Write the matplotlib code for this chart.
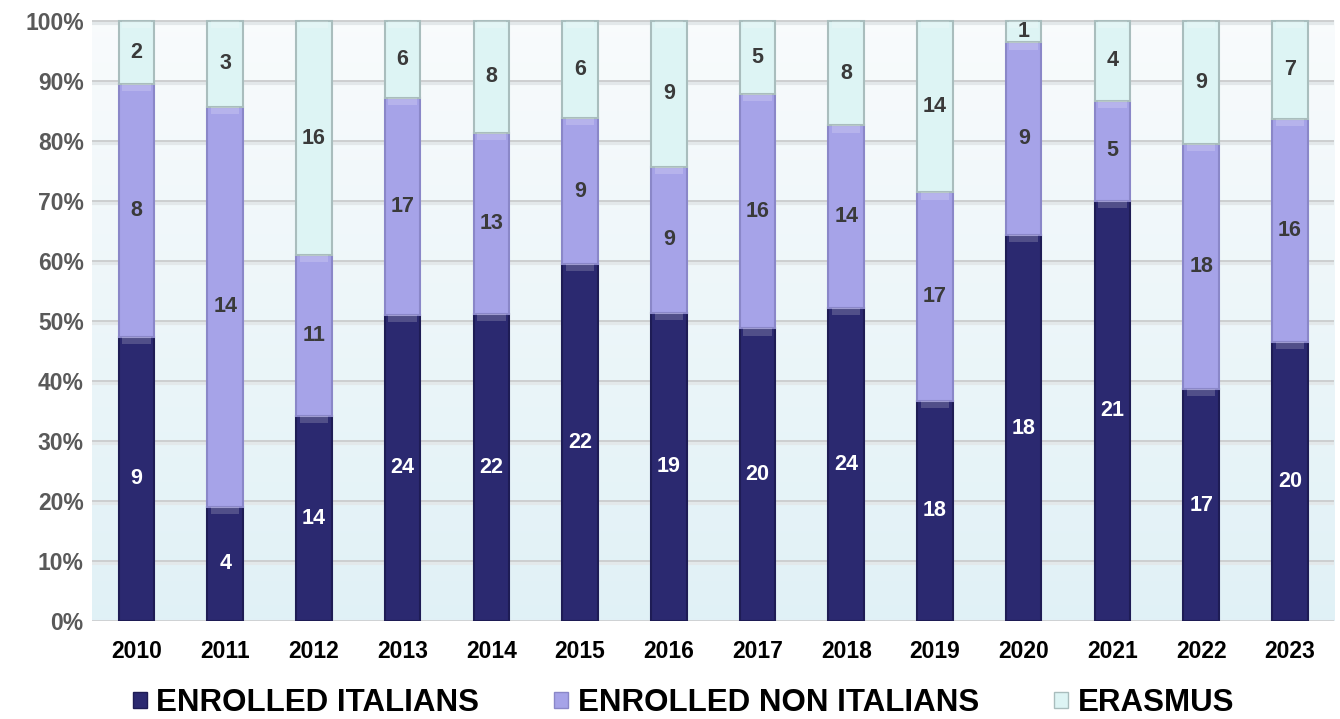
from matplotlib import pyplot as plt
from matplotlib.patches import Rectangle
import numpy as np

plt.rcParams['font.family'] = ['Liberation Sans', 'DejaVu Sans']
plt.rcParams['font.weight'] = 'bold'

# dati
years = ["2010", "2011", "2012", "2013", "2014", "2015", "2016",
         "2017", "2018", "2019", "2020", "2021", "2022", "2023"]
italians = [9, 4, 14, 24, 22, 22, 19, 20, 24, 18, 18, 21, 17, 20]
non_italians = [8, 14, 11, 17, 13, 9, 9, 16, 14, 17, 9, 5, 18, 16]
erasmus = [2, 3, 16, 6, 8, 6, 9, 5, 8, 14, 1, 4, 9, 7]
series_names = ["ENROLLED ITALIANS", "ENROLLED NON ITALIANS", "ERASMUS"]

colors = ["#2B2970", "#A6A3E8", "#DDF4F4"]
edge_colors = ["#1E1C55", "#8A87C8", "#A9BDBD"]
label_colors = ["white", "#3A3A3A", "#3A3A3A"]

counts = np.array([italians, non_italians, erasmus], dtype=float)
totals = counts.sum(axis=0)
shares = counts / totals * 100

fig = plt.figure(figsize=(13.4, 7.19), dpi=100)
ax = fig.add_axes([0.0687, 0.1363, 0.927, 0.8387])

x = np.arange(len(years))
width = 0.40

# sfondo sfumato
grad = np.linspace(0, 1, 256).reshape(-1, 1)
top = np.array([0.975, 0.985, 0.99])
bottom = np.array([0.88, 0.945, 0.965])
img = top + (bottom - top) * grad[:, :, None] * np.ones((1, 1, 3))
ax.imshow(img, extent=[-0.5, len(years) - 0.5, 0, 100], aspect="auto", zorder=0)

# griglia
for g in range(10, 101, 10):
    ax.axhline(g - 0.35, color="#E3E8EA", lw=3, zorder=1)
    ax.axhline(g, color="#CDCFD0", lw=1.4, zorder=1)
ax.axhline(0, color="#CDCFD0", lw=2, zorder=1)

bottoms = np.zeros(len(years))
for i in range(3):
    ax.bar(x, shares[i], width, bottom=bottoms, color=colors[i],
           edgecolor=edge_colors[i], linewidth=1.5, zorder=3)
    # effetto rilievo in alto
    hl = np.minimum(1.2, shares[i] * 0.4)
    ax.bar(x, hl, width * 0.8, bottom=bottoms + shares[i] - hl,
           color="white", alpha=0.18, linewidth=0, zorder=4)
    for j in range(len(years)):
        ax.text(x[j], bottoms[j] + shares[i][j] / 2, f"{int(counts[i][j])}",
                ha="center", va="center", fontsize=15.5, fontweight="bold",
                color=label_colors[i], zorder=5)
    bottoms += shares[i]

ax.set_xlim(-0.5, len(years) - 0.5)
ax.set_ylim(0, 100.5)
ax.set_yticks(range(0, 101, 10))
ax.set_yticklabels([f"{v}%" for v in range(0, 101, 10)], fontsize=16.5,
                   fontweight="bold", color="#595959")
ax.set_xticks(x)
ax.set_xticklabels(years, fontsize=16.5, fontweight="bold", color="black")
ax.tick_params(axis="both", length=0)
ax.tick_params(axis="x", pad=14)
ax.tick_params(axis="y", pad=6)
for s in ax.spines.values():
    s.set_visible(False)

handles = [Rectangle((0, 0), 1, 1, facecolor=colors[i], edgecolor=edge_colors[i])
           for i in range(3)]
fig.legend(handles, series_names, loc="center", bbox_to_anchor=(0.51, 0.022),
           ncol=3, frameon=False, prop={"weight": "bold", "size": 22.5},
           handlelength=0.45, handleheight=0.45, handletextpad=0.3, columnspacing=2.4)

fig.savefig("out.png", dpi=100)
